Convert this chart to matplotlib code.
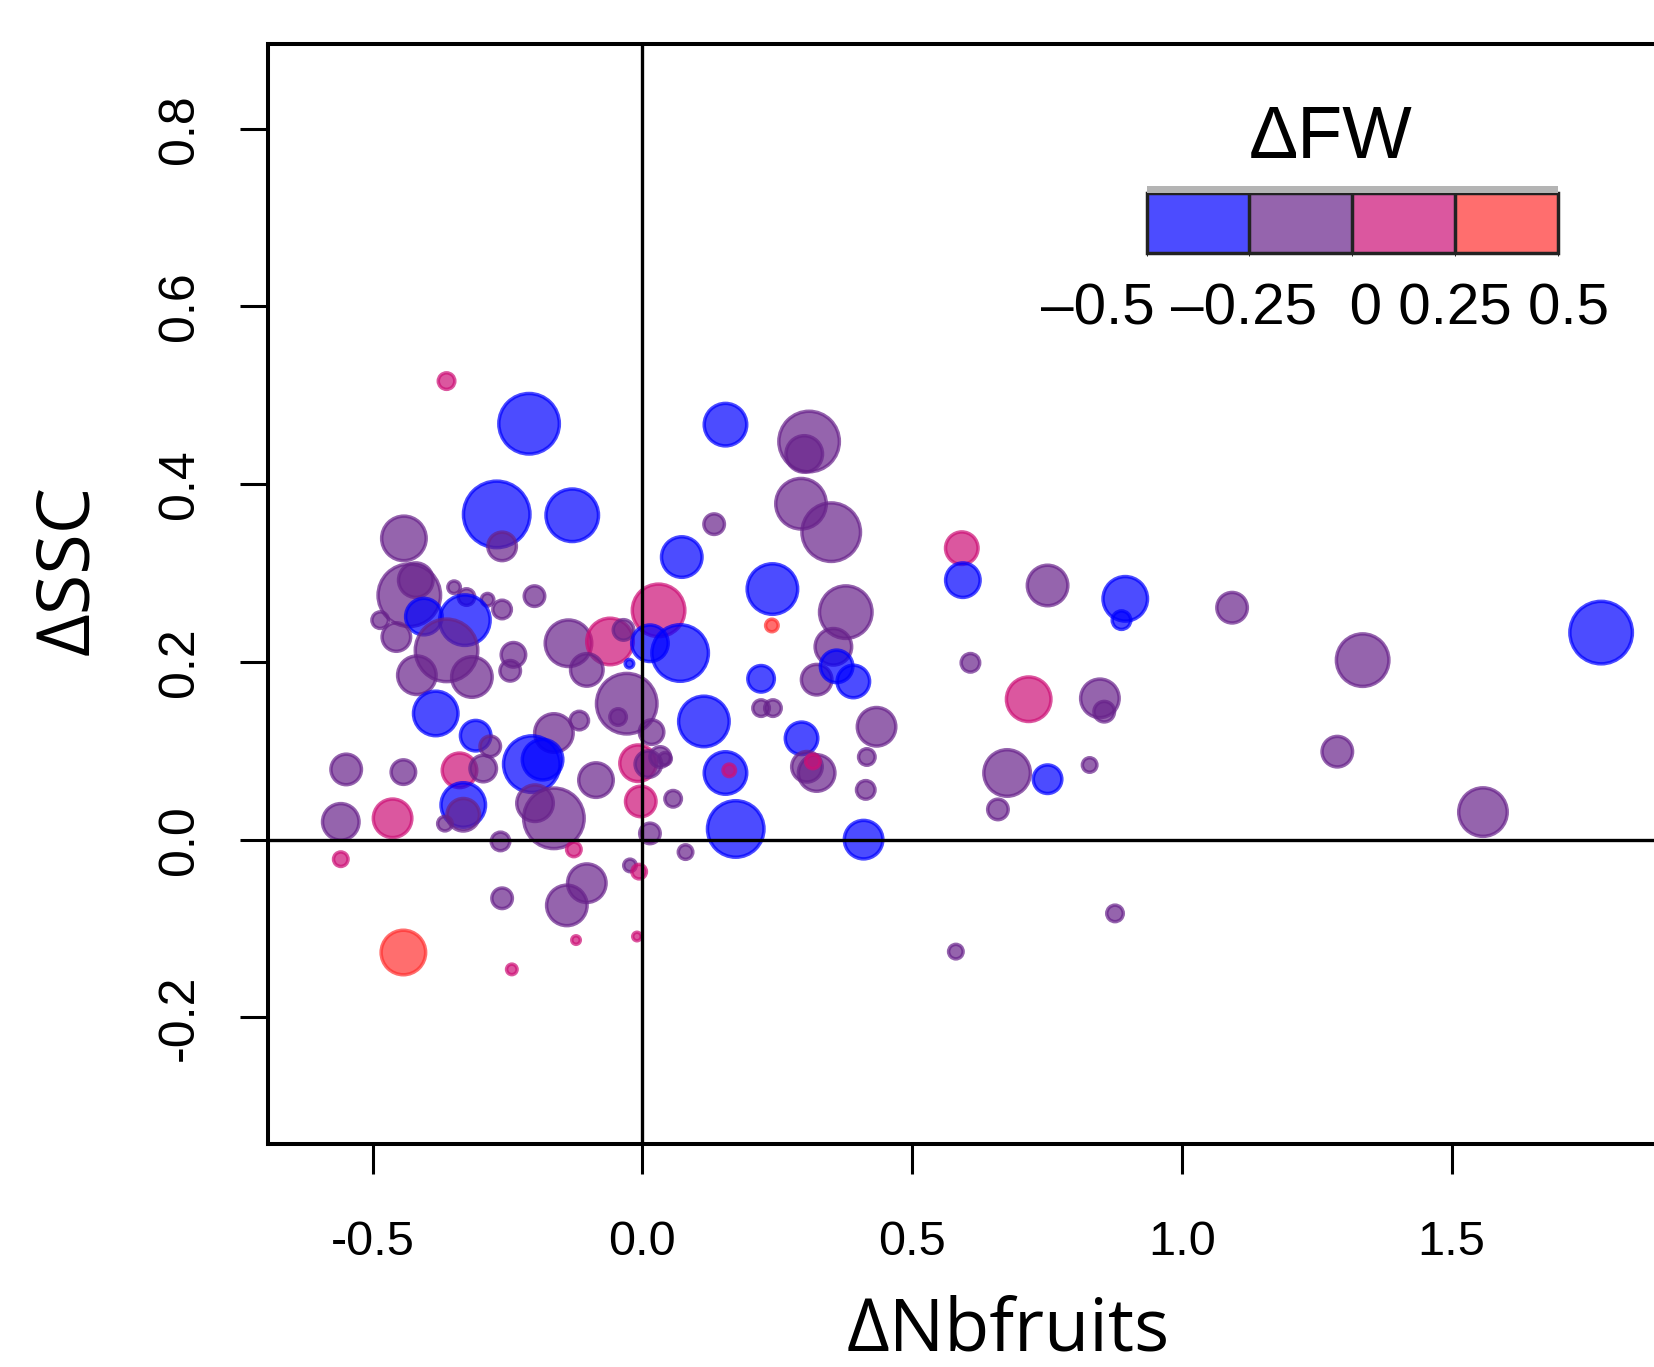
import matplotlib
matplotlib.use("Agg")
import matplotlib.pyplot as plt
from matplotlib.colors import ListedColormap, BoundaryNorm, to_rgba
from matplotlib.colorbar import ColorbarBase
from matplotlib.patches import Rectangle
from matplotlib.ticker import FormatStrFormatter

plt.rcParams['axes.unicode_minus'] = False

# delta number of fruits, delta SSC, bubble radius (px), delta FW class
nbfruits = [-0.363, -0.210, -0.270, -0.130, -0.260, -0.442, 0.073, -0.432, -0.420, -0.349,
            -0.326, -0.287, -0.260, -0.200, -0.405, -0.329, -0.486, -0.456, -0.363, -0.137,
            -0.060, 0.030, -0.035, 0.014, 0.070, -0.024, -0.239, -0.245, -0.418, -0.316,
            -0.103, -0.029, -0.045, 0.017, -0.383, -0.309, -0.282, -0.164, -0.117, -0.549,
            -0.443, -0.339, -0.295, -0.205, -0.185, -0.086, -0.008, 0.011, 0.042, -0.003,
            0.057, -0.332, -0.332, -0.366, -0.559, -0.463, -0.199, -0.164, -0.263, 0.014,
            -0.127, -0.559, 0.080, -0.023, -0.006, -0.103, -0.140, -0.260, -0.123, -0.010,
            -0.443, -0.242, 0.154, 0.309, 0.300, 0.294, 0.350, 0.133, 0.241, 0.377,
            0.240, 0.220, 0.220, 0.242, 0.114, 0.354, 0.323, 0.391, 0.360, 0.434,
            0.416, 0.414, 0.295, 0.323, 0.305, 0.316, 0.154, 0.161, 0.173, 0.410,
            0.033, 0.592, 0.594, 0.608, 0.751, 0.895, 0.888, 1.093, 1.777, 1.335,
            0.716, 0.848, 0.856, 0.676, 0.751, 0.659, 0.829, 1.288, 1.558, 0.876,
            0.581]
ssc = [0.516, 0.468, 0.366, 0.365, 0.330, 0.339, 0.318, 0.275, 0.292, 0.284,
       0.273, 0.270, 0.259, 0.274, 0.251, 0.247, 0.247, 0.228, 0.213, 0.221,
       0.223, 0.258, 0.236, 0.221, 0.210, 0.198, 0.208, 0.190, 0.185, 0.183,
       0.191, 0.153, 0.138, 0.121, 0.142, 0.117, 0.105, 0.120, 0.134, 0.079,
       0.076, 0.078, 0.080, 0.085, 0.090, 0.067, 0.086, 0.085, 0.091, 0.043,
       0.046, 0.039, 0.028, 0.018, 0.020, 0.024, 0.041, 0.024, -0.002, 0.007,
       -0.011, -0.022, -0.014, -0.029, -0.036, -0.049, -0.074, -0.066, -0.113, -0.109,
       -0.127, -0.146, 0.467, 0.448, 0.434, 0.378, 0.346, 0.355, 0.282, 0.256,
       0.241, 0.181, 0.148, 0.148, 0.133, 0.217, 0.180, 0.178, 0.195, 0.127,
       0.093, 0.056, 0.114, 0.075, 0.082, 0.088, 0.075, 0.078, 0.012, 0.000,
       0.093, 0.328, 0.292, 0.199, 0.286, 0.271, 0.247, 0.261, 0.233, 0.202,
       0.158, 0.159, 0.144, 0.075, 0.068, 0.034, 0.084, 0.099, 0.031, -0.083,
       -0.126]
radius = [10, 32, 35, 28, 16, 24, 22, 33, 19, 8,
          10, 8, 11, 12, 20, 27, 10, 16, 33, 25,
          25, 28, 12, 20, 30, 6, 14, 12, 21, 22,
          18, 32, 10, 14, 24, 17, 12, 21, 11, 17,
          14, 19, 15, 30, 22, 19, 20, 15, 8, 17,
          10, 24, 18, 9, 20, 21, 20, 32, 11, 12,
          9, 9, 9, 8, 9, 21, 22, 12, 6, 6,
          24, 7, 23, 32, 20, 27, 31, 12, 27, 28,
          8, 15, 10, 10, 27, 20, 17, 18, 18, 21,
          10, 11, 18, 20, 17, 9, 23, 8, 30, 21,
          12, 18, 19, 11, 22, 24, 11, 17, 33, 28,
          24, 21, 12, 25, 16, 12, 9, 17, 26, 10,
          9]
fw_class = ['K', 'B', 'B', 'B', 'P', 'P', 'B', 'P', 'P', 'P',
            'P', 'P', 'P', 'P', 'B', 'B', 'P', 'P', 'P', 'P',
            'K', 'K', 'P', 'B', 'B', 'B', 'P', 'P', 'P', 'P',
            'P', 'P', 'P', 'P', 'B', 'B', 'P', 'P', 'P', 'P',
            'P', 'K', 'P', 'B', 'B', 'P', 'K', 'P', 'P', 'K',
            'P', 'B', 'P', 'P', 'P', 'K', 'P', 'P', 'P', 'P',
            'K', 'K', 'P', 'P', 'K', 'P', 'P', 'P', 'K', 'K',
            'S', 'K', 'B', 'P', 'P', 'P', 'P', 'P', 'B', 'P',
            'S', 'B', 'P', 'P', 'B', 'P', 'P', 'B', 'B', 'P',
            'P', 'P', 'B', 'P', 'P', 'K', 'B', 'K', 'B', 'B',
            'P', 'K', 'B', 'P', 'P', 'B', 'B', 'P', 'B', 'P',
            'K', 'P', 'P', 'P', 'B', 'P', 'P', 'P', 'P', 'P',
            'P']

fw_bounds = [-0.5, -0.25, 0, 0.25, 0.5]
fw_labels = "\u20130.5 \u20130.25  0 0.25 0.5"
base_colors = {'B': '#0000FF', 'P': '#68228B', 'K': '#CD1076', 'S': '#FF3030'}
alpha = 0.7
edge_lw = 2.5

fig = plt.figure(figsize=(16.54, 13.67), dpi=100)
ax = fig.add_axes([0.1622, 0.1628, 0.8378, 0.8048])

cols = [to_rgba(base_colors[c], alpha) for c in fw_class]
edge_px = edge_lw * 100 / 72
sizes = [(2 * max(r - edge_px / 2, 2) * 0.72) ** 2 for r in radius]
ax.scatter(nbfruits, ssc, s=sizes, c=cols, edgecolors=cols, linewidths=edge_lw, zorder=2)

ax.axvline(0, color='black', lw=2.4, zorder=3)
ax.axhline(0, color='black', lw=2.4, zorder=3)

ax.set_xlim(-0.6934, 1.875)
ax.set_ylim(-0.343, 0.895)
ax.set_xticks([-0.5, 0.0, 0.5, 1.0, 1.5])
ax.set_yticks([-0.2, 0.0, 0.2, 0.4, 0.6, 0.8])
ax.xaxis.set_major_formatter(FormatStrFormatter('%.1f'))
ax.yaxis.set_major_formatter(FormatStrFormatter('%.1f'))

for side in ['top', 'left', 'bottom']:
    ax.spines[side].set_linewidth(2.9)
ax.spines['right'].set_visible(False)

ax.tick_params(axis='x', length=21.6, width=2.2, pad=33, labelsize=35)
ax.tick_params(axis='y', length=20, width=2.2, pad=27, labelsize=36, labelrotation=90)
for lab in ax.get_xticklabels() + ax.get_yticklabels():
    lab.set_family('Liberation Sans')
for lab in ax.get_yticklabels():
    lab.set_va('center')

fig.text(0.042, 0.583, "\u0394SSC", rotation=90, ha='center', va='center',
         fontsize=53, family='Open Sans')
fig.text(0.6094, 0.012, "\u0394Nbfruits", ha='center', va='baseline',
         fontsize=53, family='Open Sans')

# legend bar for delta FW
cax = fig.add_axes([0.6932, 0.8149, 0.2487, 0.0439])
shadow = Rectangle((0.6932, 0.8149 + 0.0439), 0.2487, 0.005, transform=fig.transFigure,
                   facecolor='#b4b4b4', edgecolor='none', zorder=0)
fig.patches.append(shadow)
cmap = ListedColormap([to_rgba(base_colors[k], alpha) for k in ['B', 'P', 'K', 'S']])
cb = ColorbarBase(cax, cmap=cmap, norm=BoundaryNorm(fw_bounds, 4), orientation='horizontal',
                  drawedges=True, ticks=[])
cb.outline.set_linewidth(2.5)
cb.outline.set_edgecolor('#222222')
cb.dividers.set_linewidth(2.5)
cb.dividers.set_color('#222222')

fig.text(0.8047, 0.8844, "\u0394FW", ha='center', va='baseline', fontsize=53,
         family='Liberation Sans')
fig.text(0.8011, 0.7623, fw_labels, ha='center', va='baseline', fontsize=42,
         family='Liberation Sans')

fig.savefig('out.png', dpi=100)
